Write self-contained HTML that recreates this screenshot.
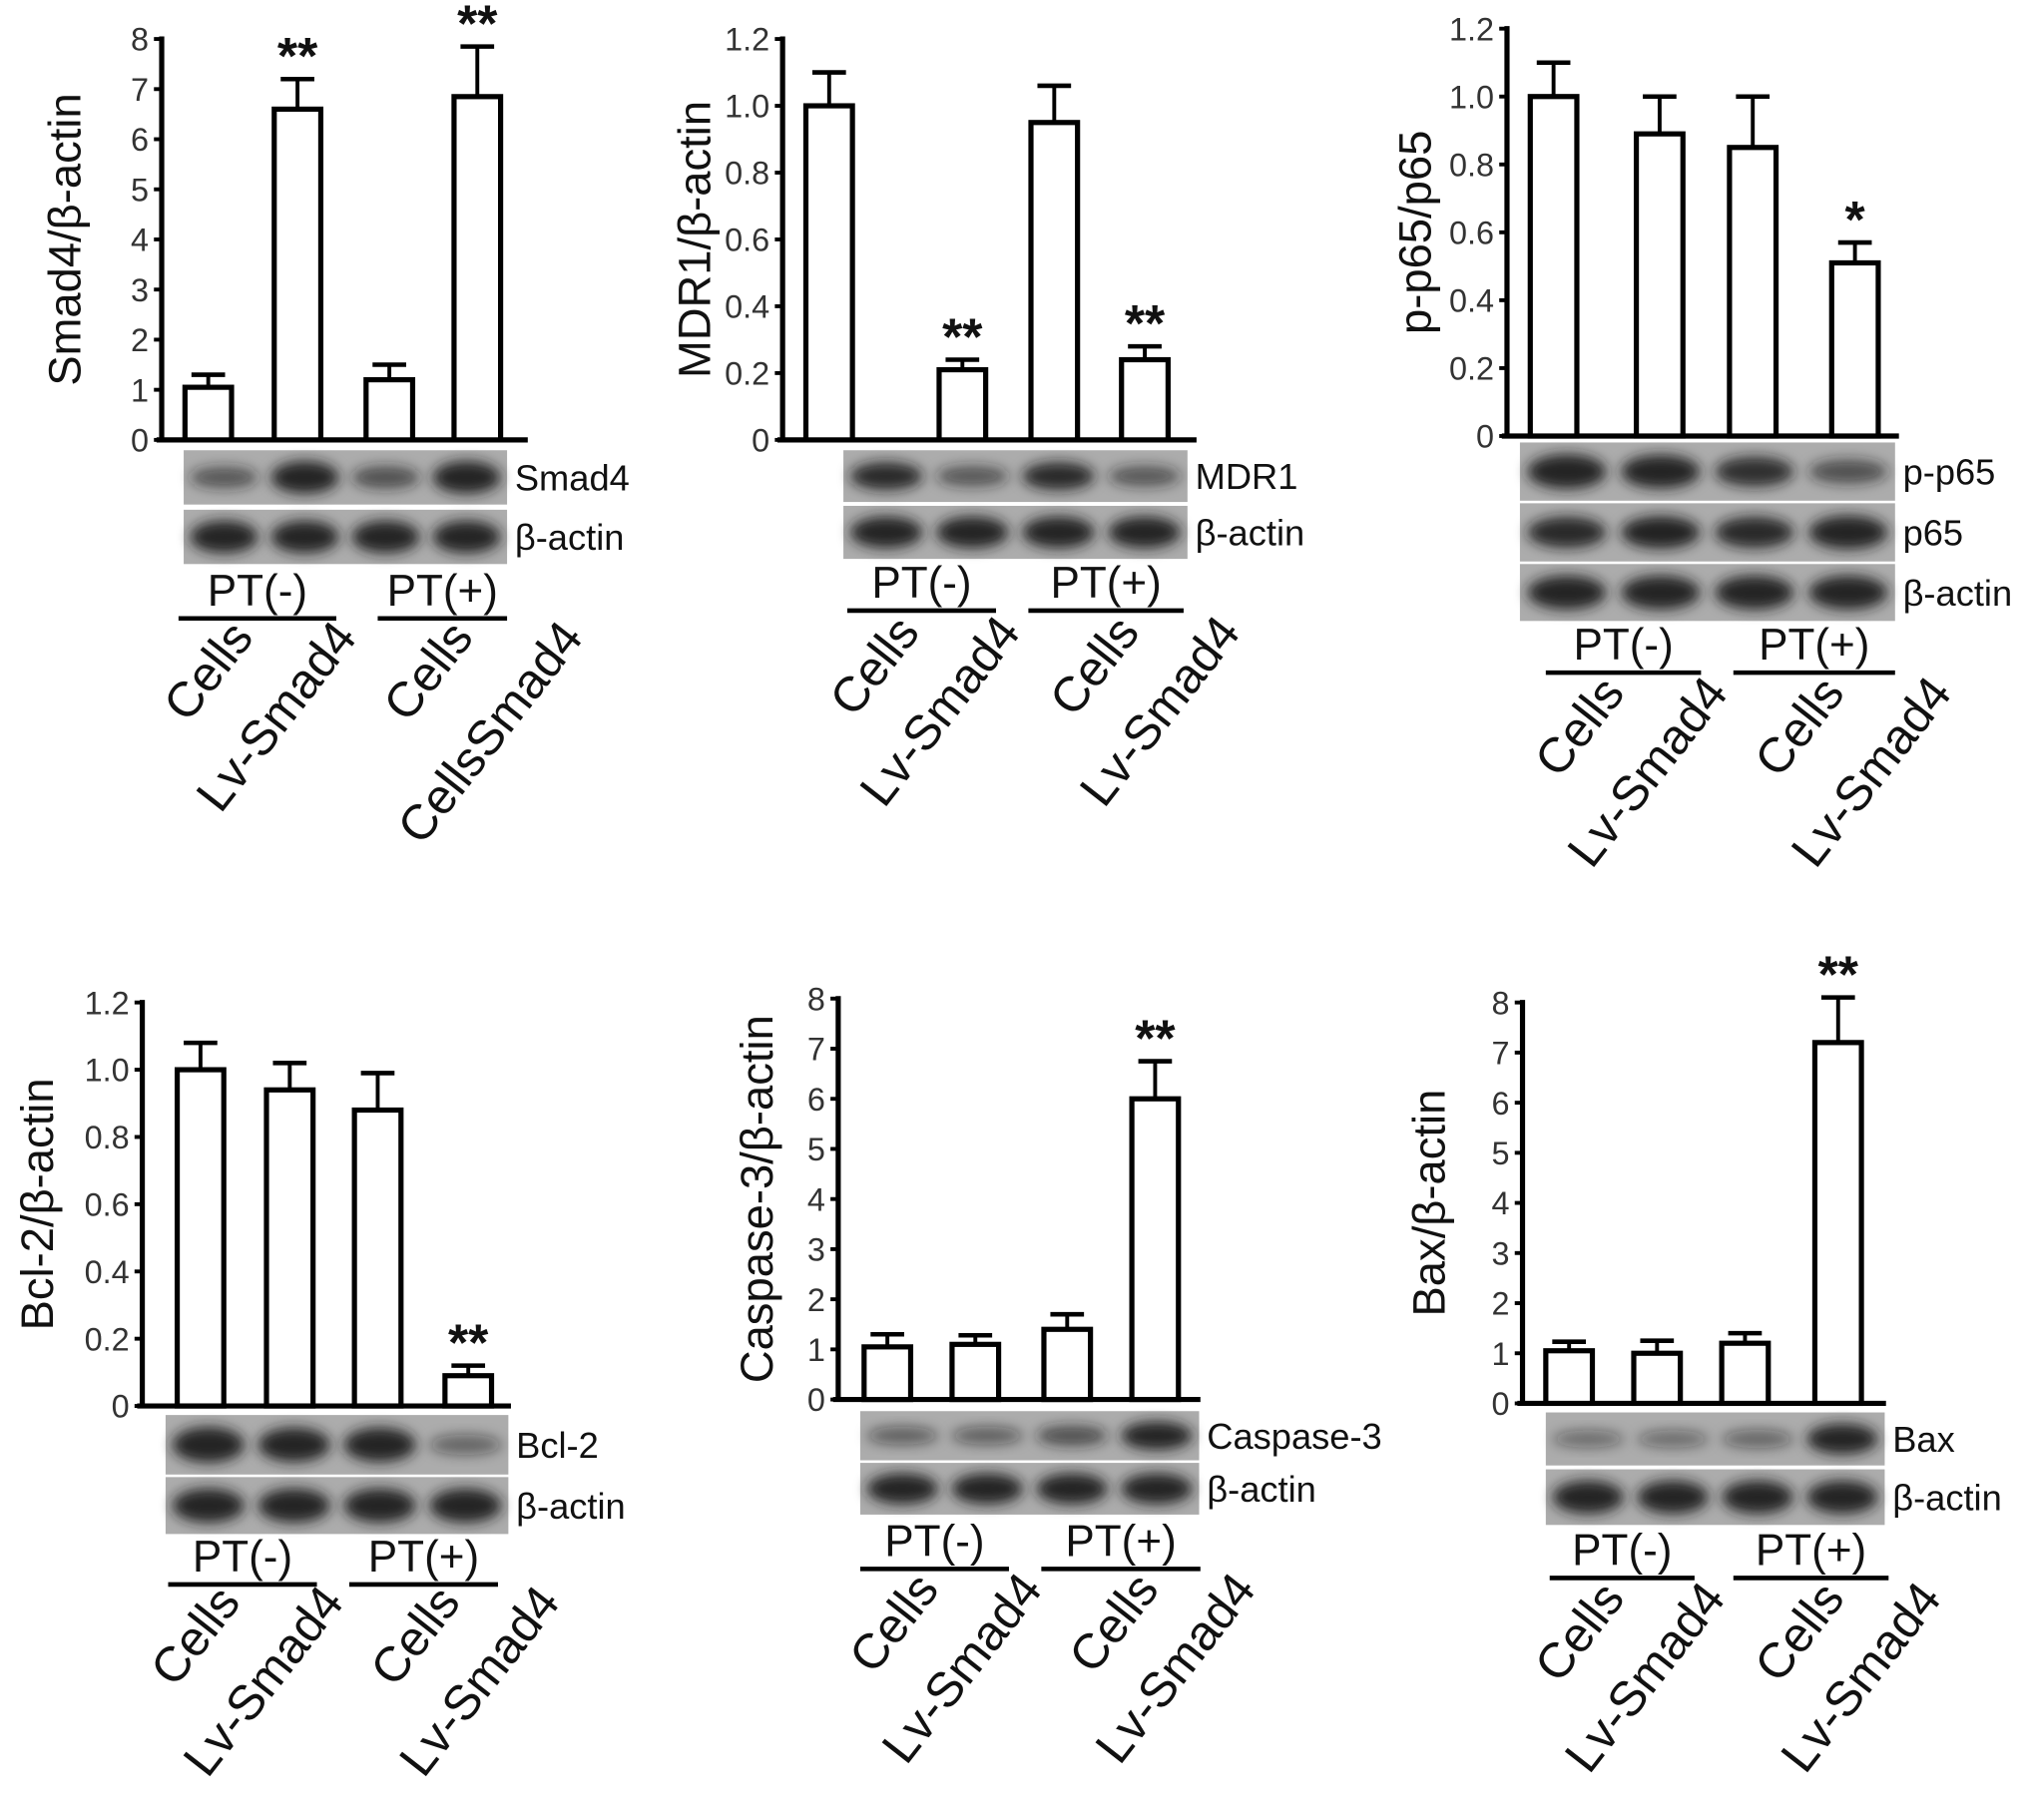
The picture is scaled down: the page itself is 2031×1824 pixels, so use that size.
<!DOCTYPE html>
<html><head><meta charset="utf-8">
<style>
html,body{margin:0;padding:0;background:#fff;}
svg{display:block;font-family:"Liberation Sans",Arial,sans-serif;}
</style></head>
<body>
<svg id="fig" width="2031" height="1824" viewBox="0 0 1567 1407" xmlns="http://www.w3.org/2000/svg">
<defs><filter id="blur" x="-30%" y="-60%" width="160%" height="220%"><feGaussianBlur stdDeviation="5"/></filter></defs>
</svg>
<script>
// ---- data ----
const categories = ["Cells","Lv-Smad4","Cells","Lv-Smad4"];
const smad4Values = [1.05, 6.6, 1.2, 6.85];
const smad4Errors = [0.25, 0.6, 0.3, 1.0];
const smad4Stars = ["", "**", "", "**"];
const mdr1Values = [1.0, 0.21, 0.95, 0.24];
const mdr1Errors = [0.1, 0.03, 0.11, 0.04];
const mdr1Stars = ["", "**", "", "**"];
const pp65Values = [1.0, 0.89, 0.85, 0.51];
const pp65Errors = [0.1, 0.11, 0.15, 0.06];
const pp65Stars = ["", "", "", "*"];
const bcl2Values = [1.0, 0.94, 0.88, 0.09];
const bcl2Errors = [0.08, 0.08, 0.11, 0.03];
const bcl2Stars = ["", "", "", "**"];
const casp3Values = [1.05, 1.1, 1.4, 6.0];
const casp3Errors = [0.25, 0.18, 0.3, 0.75];
const casp3Stars = ["", "", "", "**"];
const baxValues = [1.05, 1.0, 1.2, 7.2];
const baxErrors = [0.18, 0.25, 0.2, 0.9];
const baxStars = ["", "", "", "**"];
const ticks8 = ["0","1","2","3","4","5","6","7","8"];
const ticks12 = ["0","0.2","0.4","0.6","0.8","1.0","1.2"];
// band intensities (0..1) per blot row
const smad4Bands = [[0.5,1,0.55,1],[1,1,1,1]];
const mdr1Bands = [[0.85,0.5,0.85,0.5],[1,1,1,1]];
const pp65Bands = [[1,0.95,0.8,0.55],[0.85,0.9,0.85,0.95],[1,1,1,1]];
const bcl2Bands = [[1,0.95,0.95,0.35],[1,1,1,1]];
const casp3Bands = [[0.4,0.4,0.55,0.95],[1,1,1,1]];
const baxBands = [[0.3,0.3,0.35,0.95],[1,1,1,1]];

const NS = "http://www.w3.org/2000/svg";
const svg = document.getElementById("fig");
function mk(tag, attrs, parent, text){
  const e = document.createElementNS(NS, tag);
  for (const k in attrs) e.setAttribute(k, attrs[k]);
  if (text !== undefined) e.textContent = text;
  (parent||svg).appendChild(e);
  return e;
}

const panels = [
 {id:"smad4", title:"Smad4/β-actin", values:smad4Values, errors:smad4Errors, stars:smad4Stars, ticks:ticks8, max:8,
  ax:125, y0:340, yt:30, xend:408, bars:[161,230,301,369], blotX:142, blotW:250, rows:[[348,42],[394,42]], rowLabels:["Smad4","β-actin"],
  bands:smad4Bands, pt:[[138,260],[292,392]], ptY:478, labY:476, labX:[175,255,345,430], cats:["Cells","Lv-Smad4","Cells","CellsSmad4"], titleX:62},
 {id:"mdr1", title:"MDR1/β-actin", values:mdr1Values, errors:mdr1Errors, stars:mdr1Stars, ticks:ticks12, max:1.2,
  ax:605, y0:340, yt:30, xend:925, bars:[641,744,815,885], blotX:652, blotW:266, rows:[[348,40],[391,41]], rowLabels:["MDR1","β-actin"],
  bands:mdr1Bands, pt:[[655,770],[795,915]], ptY:472, labY:472, labX:[690,768,860,938], cats:categories, titleX:549},
 {id:"pp65", title:"p-p65/p65", values:pp65Values, errors:pp65Errors, stars:pp65Stars, ticks:ticks12, max:1.2,
  ax:1165, y0:337, yt:22, xend:1468, bars:[1201,1283,1355,1434], blotX:1175, blotW:290, rows:[[342,45],[389,45],[436,44]], rowLabels:["p-p65","p65","β-actin"],
  bands:pp65Bands, pt:[[1195,1315],[1340,1465]], ptY:520, labY:519, labX:[1235,1315,1405,1488], cats:categories, titleX:1106},
 {id:"bcl2", title:"Bcl-2/β-actin", values:bcl2Values, errors:bcl2Errors, stars:bcl2Stars, ticks:ticks12, max:1.2,
  ax:110, y0:1087, yt:775, xend:395, bars:[155,224,292,362], blotX:128, blotW:265, rows:[[1094,46],[1142,44]], rowLabels:["Bcl-2","β-actin"],
  bands:bcl2Bands, pt:[[130,245],[270,385]], ptY:1225, labY:1222, labX:[165,245,335,412], cats:categories, titleX:41},
 {id:"casp3", title:"Caspase-3/β-actin", values:casp3Values, errors:casp3Errors, stars:casp3Stars, ticks:ticks8, max:8,
  ax:648, y0:1082, yt:772, xend:928, bars:[686,754,825,893], blotX:665, blotW:262, rows:[[1091,38],[1131,40]], rowLabels:["Caspase-3","β-actin"],
  bands:casp3Bands, pt:[[665,780],[805,928]], ptY:1213, labY:1212, labX:[705,785,875,950], cats:categories, titleX:597},
 {id:"bax", title:"Bax/β-actin", values:baxValues, errors:baxErrors, stars:baxStars, ticks:ticks8, max:8,
  ax:1177, y0:1085, yt:775, xend:1458, bars:[1213,1281,1349,1421], blotX:1195, blotW:262, rows:[[1092,41],[1136,43]], rowLabels:["Bax","β-actin"],
  bands:baxBands, pt:[[1198,1310],[1340,1460]], ptY:1220, labY:1219, labX:[1235,1313,1405,1480], cats:categories, titleX:1117}
];

panels.forEach(p=>{
  const g = mk("g",{});
  
  
  const yScale = v => p.y0 - (v/p.max)*(p.y0-p.yt);
  const ya = mk("line",{x1:p.ax,y1:p.yt-2,x2:p.ax,y2:p.y0,stroke:"#000","stroke-width":4},g);
  
  
  const xa = mk("line",{x1:p.ax-4,y1:p.y0,x2:p.xend,y2:p.y0,stroke:"#000","stroke-width":4},g);
  
  
  p.ticks.forEach((t,i)=>{
    const v = p.max*i/(p.ticks.length-1);
    const y = yScale(v);
    mk("line",{x1:p.ax-6,y1:y,x2:p.ax,y2:y,stroke:"#000","stroke-width":3},g);
    const tl = mk("text",{x:p.ax-10,y:y+9,"text-anchor":"end","font-size":25,fill:"#333"},g,t);
    
    
  });
  const midY = (p.y0+p.yt)/2;
  const tt = mk("text",{x:p.titleX,y:midY,"text-anchor":"middle","font-size":35,transform:`rotate(-90 ${p.titleX} ${midY})`,fill:"#111"},g,p.title);
  
  
  p.values.forEach((v,i)=>{
    const cx = p.bars[i], w = 36;
    const yt = yScale(v), ye = yScale(v+p.errors[i]);
    const eb = mk("line",{x1:cx,y1:yt,x2:cx,y2:ye,stroke:"#000","stroke-width":3},g);
    
    
    mk("line",{x1:cx-13,y1:ye,x2:cx+13,y2:ye,stroke:"#000","stroke-width":3.5},g);
    const b = mk("rect",{x:cx-w/2,y:yt,width:w,height:p.y0-yt,fill:"#fff",stroke:"#000","stroke-width":4},g);
    
    
    if (p.stars[i]) {
      const s = mk("text",{x:cx,y:ye-4,"text-anchor":"middle","font-size":40,"font-weight":"bold",fill:"#111"},g,p.stars[i]);
      
      
    }
  });
  p.rows.forEach((r,ri)=>{
    const bl = mk("rect",{x:p.blotX,y:r[0],width:p.blotW,height:r[1],fill:"#acacac"},g);
    
    
    const lw = p.blotW/4;
    p.bands[ri].forEach((a,li)=>{
      const cx = p.blotX + lw*(li+0.5);
      mk("ellipse",{cx:cx,cy:r[0]+r[1]/2,rx:lw*0.42,ry:r[1]*(0.1+0.2*a),fill:"#1a1a1a","fill-opacity":Math.min(0.95,0.2+0.8*a),filter:"url(#blur)"},g);
    });
    const rl = mk("text",{x:p.blotX+p.blotW+6,y:r[0]+r[1]/2+10,"font-size":28,fill:"#111"},g,p.rowLabels[ri]);
    
    
  });
  ["PT(-)","PT(+)"].forEach((t,gi)=>{
    const [a,b] = p.pt[gi];
    mk("line",{x1:a,y1:p.ptY,x2:b,y2:p.ptY,stroke:"#000","stroke-width":3.5},g);
    const pl = mk("text",{x:(a+b)/2,y:p.ptY-10,"text-anchor":"middle","font-size":34,fill:"#111"},g,t);
    
    
  });
  p.cats.forEach((c,i)=>{
    const x = p.labX[i], y = p.labY;
    const cl = mk("text",{x:x,y:y+28,"text-anchor":"end","font-size":38,fill:"#111",transform:`rotate(-52 ${x} ${y})`},g,c);
    
    
  });
});
</script>
</body></html>
